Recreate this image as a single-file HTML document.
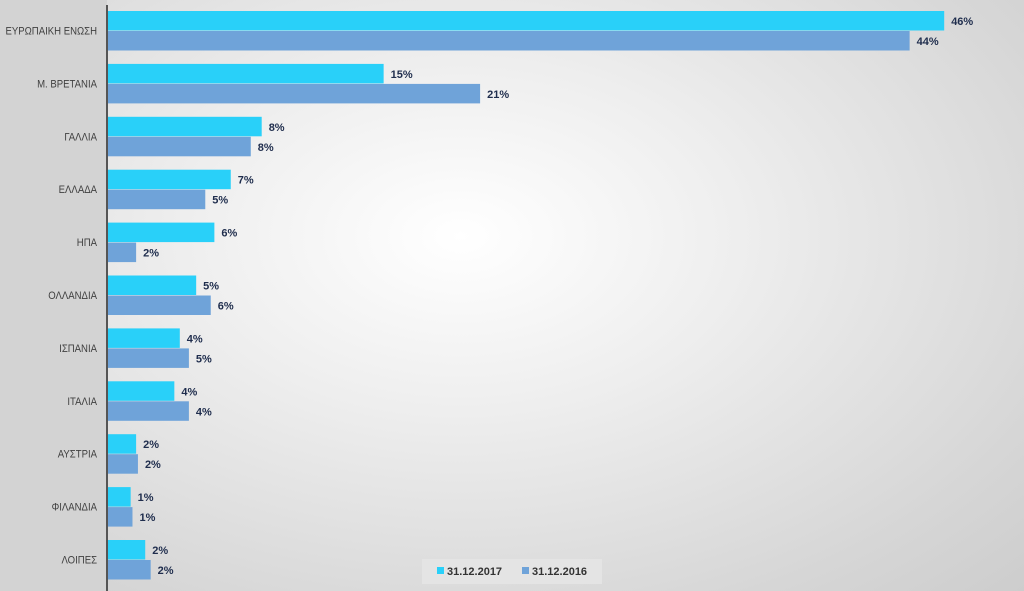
<!DOCTYPE html>
<html><head><meta charset="utf-8"><style>
html,body{margin:0;padding:0}
body{width:1024px;height:591px;overflow:hidden;background:radial-gradient(ellipse at 45% 40%,#ffffff 0%,#eeeeee 35%,#d6d6d6 80%,#cdcdcd 100%);font-family:"Liberation Sans","DejaVu Sans",sans-serif}
svg{position:absolute;left:0;top:0}
</style></head><body>
<svg id="chart" width="1024" height="591"></svg>
<script>
const categories=["ΕΥΡΩΠΑΙΚΗ ΕΝΩΣΗ","Μ. ΒΡΕΤΑΝΙΑ","ΓΑΛΛΙΑ","ΕΛΛΑΔΑ","ΗΠΑ","ΟΛΛΑΝΔΙΑ","ΙΣΠΑΝΙΑ","ΙΤΑΛΙΑ","ΑΥΣΤΡΙΑ","ΦΙΛΑΝΔΙΑ","ΛΟΙΠΕΣ"];
const values2017=[46.0,15.2,8.5,6.8,5.9,4.9,4.0,3.7,1.6,1.3,2.1];
const values2016=[44.1,20.5,7.9,5.4,1.6,5.7,4.5,4.5,1.7,1.4,2.4];
const labels2017=["46%","15%","8%","7%","6%","5%","4%","4%","2%","1%","2%"];
const labels2016=["44%","21%","8%","5%","2%","6%","5%","4%","2%","1%","2%"];
const NS="http://www.w3.org/2000/svg";
const svg=document.getElementById('chart');
const x0=107,pxPer=18.2,top0=11,pitch=52.9,bh=19.5;
const xScale=v=>x0+v*pxPer;
function mk(t,a){const e=document.createElementNS(NS,t);for(const k in a)e.setAttribute(k,a[k]);svg.appendChild(e);return e;}
const lp=mk('rect',{x:0,y:0,width:x0,height:591,fill:'#d3d3d3'});


categories.forEach((c,i)=>{
  const y=top0+i*pitch;
  const b1=mk('rect',{x:x0,y:y,width:xScale(values2017[i])-x0,height:bh,fill:'#29d0f9'});
  
  
  const b2=mk('rect',{x:x0,y:y+bh+0.5,width:xScale(values2016[i])-x0,height:bh,fill:'#6fa3d9'});
  
  
  const t1=mk('text',{x:xScale(values2017[i])+7,y:y+14,'font-size':11,'font-weight':'bold',fill:'#1f2d4d'});
  t1.textContent=labels2017[i];
  
  
  const t2=mk('text',{x:xScale(values2016[i])+7,y:y+bh+14.5,'font-size':11,'font-weight':'bold',fill:'#1f2d4d'});
  t2.textContent=labels2016[i];
  
  
  const cl=mk('text',{x:97,y:y+bh+4,'font-size':11,fill:'#404040','text-anchor':'end'});
  cl.textContent=c;
  const w=cl.getComputedTextLength();
  const target=w*0.87;
  cl.setAttribute('textLength',target);
  cl.setAttribute('lengthAdjust','spacingAndGlyphs');
  
  
});
const ax=mk('line',{x1:x0,y1:5,x2:x0,y2:591,stroke:'#555',"stroke-width":2});


const lg=mk('rect',{x:422,y:559,width:180,height:25,fill:'#e4e4e4'});


const s1=mk('rect',{x:437,y:567,width:7,height:7,fill:'#29d0f9'});


const l1=mk('text',{x:447,y:575,'font-size':11,'font-weight':'bold',fill:'#333'});l1.textContent='31.12.2017';


const s2=mk('rect',{x:522,y:567,width:7,height:7,fill:'#6fa3d9'});


const l2=mk('text',{x:532,y:575,'font-size':11,'font-weight':'bold',fill:'#333'});l2.textContent='31.12.2016';


</script>
</body></html>
